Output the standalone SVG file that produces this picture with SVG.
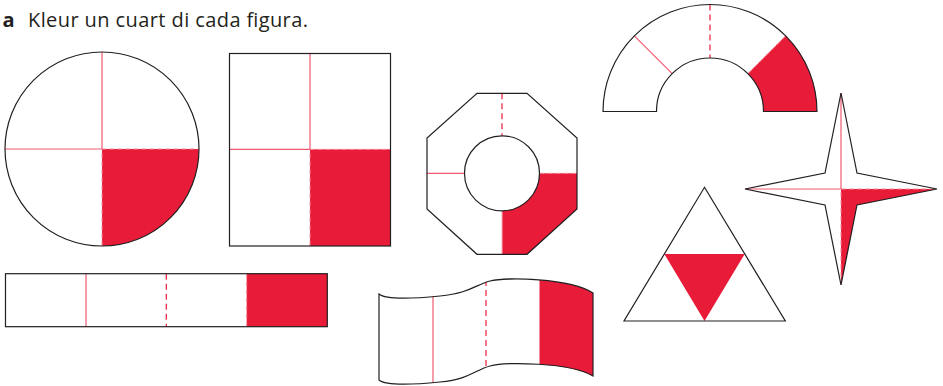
<svg xmlns="http://www.w3.org/2000/svg" width="943" height="386" viewBox="0 0 943 386">
<style>
.out{fill:none;stroke:#231F20;stroke-width:1.2;stroke-linejoin:miter}
.bg{fill:#FFFFFF}
.red{fill:#E81B39}
.sol{stroke:#EF5A72;stroke-width:1.2;fill:none}
.dash{stroke:#E81B39;stroke-width:1.2;fill:none;stroke-dasharray:6 4}
.edge{stroke:#F48C9C;stroke-width:1;fill:none;stroke-dasharray:5 3}
.title{font-family:"Open Sans","Noto Sans",sans-serif;font-size:20px;fill:#231F20}
</style>
<defs>
<clipPath id="flagclip"><path d="M379,294 C385,299 410,299 440,296 C470,293 475,285 490,281 C505,277 570,278 593,293 L593,376 C570,362 505,362 490,366 C475,370 470,379 440,382 C410,385 385,385 379,380 Z"/></clipPath>
</defs>
<g id="title">
<text class="title" x="2.5" y="27"><tspan font-weight="bold">a</tspan></text>
<text class="title" x="28" y="27" textLength="280" lengthAdjust="spacing">Kleur un cuart di cada figura.</text>
</g>
<g id="circle">
<circle class="bg" cx="102" cy="149" r="97"/>
<path class="red" d="M102,149 L199,149 A97,97 0 0 1 102,246 Z"/>
<path class="edge" d="M102,246 L102,149 L199,149"/>
<line class="sol" x1="102" y1="52" x2="102" y2="149"/>
<line class="sol" x1="5" y1="149" x2="102" y2="149"/>
<circle class="out" cx="102" cy="149" r="97"/>
</g>
<g id="rectangle">
<rect class="bg" x="229.5" y="53.5" width="161" height="192.5"/>
<rect class="red" x="310" y="149.3" width="80.5" height="96.7"/>
<path class="edge" d="M310,246 L310,149.3 L390.5,149.3"/>
<line class="sol" x1="310" y1="53.5" x2="310" y2="149.3"/>
<line class="sol" x1="229.5" y1="149.3" x2="310" y2="149.3"/>
<rect class="out" x="229.5" y="53.5" width="161" height="192.5"/>
</g>
<g id="octagon">
<polygon class="bg" points="477,93.3 527,93.3 577,138 577,209 527,254.3 477,254.3 427,209 427,138"/>
<path class="red" d="M502,210.8 L502,254.3 L527,254.3 L577,209 L577,173.3 L539.5,173.3 A37.5,37.5 0 0 1 502,210.8 Z"/>
<path class="edge" d="M539.5,173.3 L577,173.3"/>
<line class="sol" x1="427" y1="173.3" x2="464.5" y2="173.3"/>
<line class="dash" x1="502" y1="93.3" x2="502" y2="135.8"/>
<line x1="502" y1="210.8" x2="502" y2="254.3" stroke="#F6B5C0" stroke-width="1"/>
<polygon class="out" points="477,93.3 527,93.3 577,138 577,209 527,254.3 477,254.3 427,209 427,138"/>
<circle class="out" cx="502" cy="173.3" r="37.5"/>
</g>
<g id="arch">
<path class="bg" d="M603,111.5 A107,107 0 0 1 817,111.5 L763.5,111.5 A53.5,53.5 0 0 0 656.5,111.5 Z"/>
<path class="red" d="M817,111.5 A107,107 0 0 0 785.7,35.8 L747.8,73.7 A53.5,53.5 0 0 1 763.5,111.5 Z"/>
<line class="edge" x1="785.7" y1="35.8" x2="747.8" y2="73.7"/>
<line class="sol" x1="634.3" y1="35.8" x2="672.2" y2="73.7"/>
<line class="dash" x1="710" y1="4.5" x2="710" y2="58"/>
<path class="out" d="M603,111.5 A107,107 0 0 1 817,111.5 L763.5,111.5 A53.5,53.5 0 0 0 656.5,111.5 Z"/>
</g>
<g id="star">
<polygon class="bg" points="841,93 857,173 937,189 857,205 841,285 825,205 745,189 825,173"/>
<polygon class="red" points="841,189 937,189 857,205 841,285"/>
<path class="edge" d="M841,285 L841,189 L937,189"/>
<line class="sol" x1="841" y1="93" x2="841" y2="189"/>
<line class="sol" x1="745" y1="189" x2="841" y2="189"/>
<polygon class="out" points="841,93 857,173 937,189 857,205 841,285 825,205 745,189 825,173"/>
</g>
<g id="triangle">
<polygon class="bg" points="704.5,187.3 785.3,321 624,321"/>
<polygon class="red" points="664.3,254 744.7,254 704.5,321"/>
<polygon class="out" points="704.5,187.3 785.3,321 624,321"/>
</g>
<g id="strip">
<rect class="bg" x="5.5" y="273.7" width="321.8" height="53"/>
<rect class="red" x="246.7" y="273.7" width="80.6" height="53"/>
<line class="edge" x1="246.7" y1="273.7" x2="246.7" y2="326.7"/>
<line class="sol" x1="86" y1="273.7" x2="86" y2="326.7"/>
<line class="dash" x1="166.3" y1="273.7" x2="166.3" y2="326.7"/>
<rect class="out" x="5.5" y="273.7" width="321.8" height="53"/>
</g>
<g id="flag">
<g clip-path="url(#flagclip)">
<rect class="bg" x="379" y="270" width="214" height="120"/>
<rect class="red" x="539.5" y="270" width="54" height="120"/>
<line class="sol" x1="433" y1="270" x2="433" y2="390"/>
<line class="dash" x1="486" y1="270" x2="486" y2="390"/>
<line class="edge" x1="539.5" y1="270" x2="539.5" y2="390"/>
</g>
<path class="out" d="M379,294 C385,299 410,299 440,296 C470,293 475,285 490,281 C505,277 570,278 593,293 L593,376 C570,362 505,362 490,366 C475,370 470,379 440,382 C410,385 385,385 379,380 Z"/>
</g>
</svg>
